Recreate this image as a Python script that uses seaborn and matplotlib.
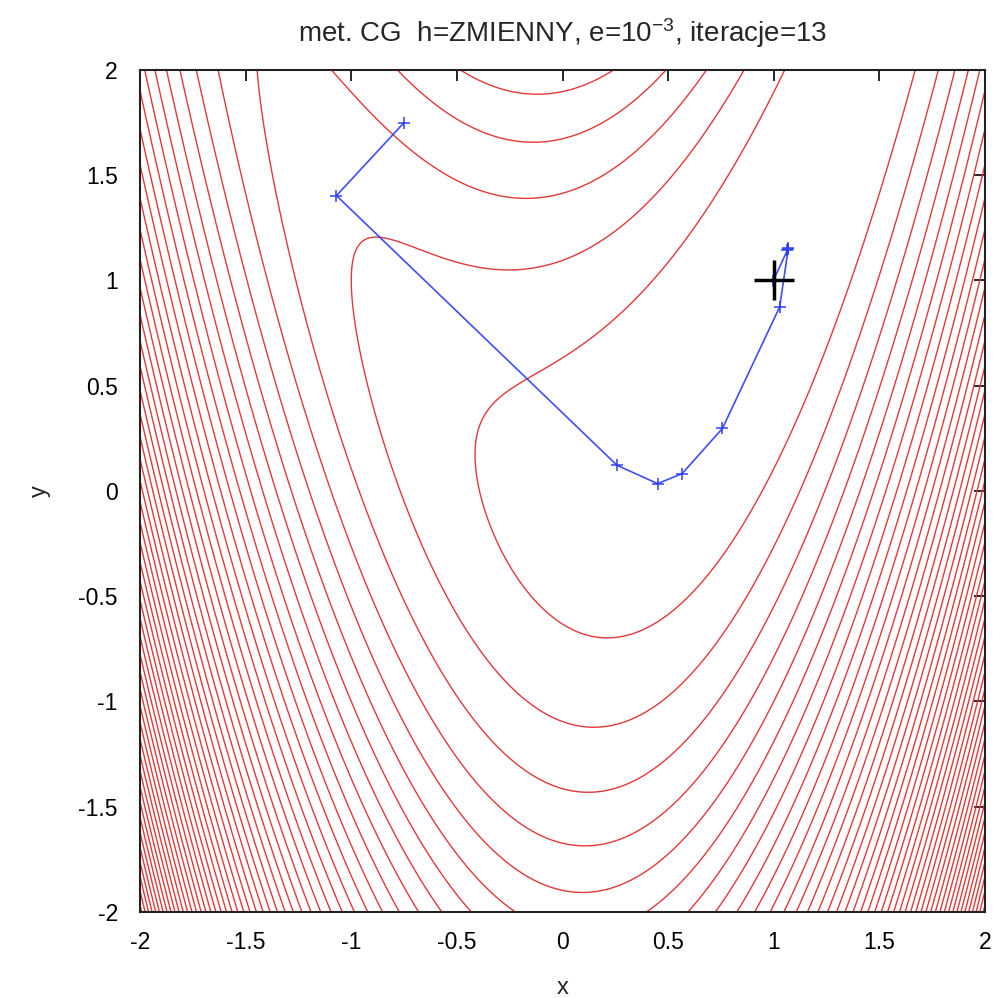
import numpy as np
import pandas as pd
import matplotlib
matplotlib.use("Agg")
import matplotlib.pyplot as plt
from matplotlib.ticker import FormatStrFormatter
import seaborn as sns

# ---- data ----
# objective f(x,y) = a*(x^2 - y)^2 + (1 - x)^2
coef_a = 2.5
contour_levels = list(range(2, 100, 2))
x_range = [-2.0, 2.0]
y_range = [-2.0, 2.0]
tick_values = [-2, -1.5, -1, -0.5, 0, 0.5, 1, 1.5, 2]

# CG iterates
path_x = [-0.75, -1.07, 0.258, 0.450, 0.566, 0.757, 1.028, 1.069, 1.067, 1.065, 1.000, 0.998, 1.000, 1.000]
path_y = [1.750, 1.403, 0.122, 0.035, 0.082, 0.297, 0.874, 1.153, 1.150, 1.145, 1.004, 0.998, 1.000, 1.000]

# true minimum
min_x = [1.0]
min_y = [1.0]

title_text = r"met. CG  h=ZMIENNY, e=10$^{-3}$, iteracje=13"

# ---- plot ----
sns.set_theme(style="white")
plt.rcParams["font.family"] = ["Liberation Sans", "DejaVu Sans"]
plt.rcParams["mathtext.fontset"] = "custom"
plt.rcParams["mathtext.rm"] = "Liberation Sans"
plt.rcParams["mathtext.it"] = "Liberation Sans"

fig = plt.figure(figsize=(10, 9.98), dpi=100)
ax = fig.add_axes([0.14, 0.0862, 0.845, 0.8437])

gx = np.linspace(x_range[0], x_range[1], 600)
gy = np.linspace(y_range[0], y_range[1], 600)
X, Y = np.meshgrid(gx, gy)
Z = coef_a * (X**2 - Y) ** 2 + (1 - X) ** 2
ax.contour(X, Y, Z, levels=contour_levels, colors="#e03a3a", linewidths=1.0)

df = pd.DataFrame({"x": path_x, "y": path_y, "step": range(len(path_x))})
sns.lineplot(data=df, x="x", y="y", sort=False, estimator=None, ax=ax,
             color="#2a3cf0", linewidth=1.2, marker="+", markersize=9,
             markeredgewidth=1.2, markeredgecolor="#2a3cf0", alpha=0.9)

dm = pd.DataFrame({"x": min_x, "y": min_y})
sns.scatterplot(data=dm, x="x", y="y", ax=ax, marker="+", s=850,
                color="black", linewidth=2.5, zorder=5)

ax.set_xlim(*x_range)
ax.set_ylim(*y_range)
ax.set_xticks(tick_values)
ax.set_yticks(tick_values)
ax.xaxis.set_major_formatter(FormatStrFormatter("%g"))
ax.yaxis.set_major_formatter(FormatStrFormatter("%g"))
ax.tick_params(direction="in", length=8, width=1.2, top=True, right=True,
               labelsize=16.5, colors="black")
ax.tick_params(axis="x", pad=14)
ax.tick_params(axis="y", pad=16)
for s in ax.spines.values():
    s.set_linewidth(1.5)
    s.set_color("#222222")
ax.set_xlabel("x", fontsize=17, labelpad=16)
ax.set_ylabel("y", fontsize=17, labelpad=20)
ax.set_title(title_text, fontsize=20, pad=20)

fig.savefig("out.png", dpi=100)
